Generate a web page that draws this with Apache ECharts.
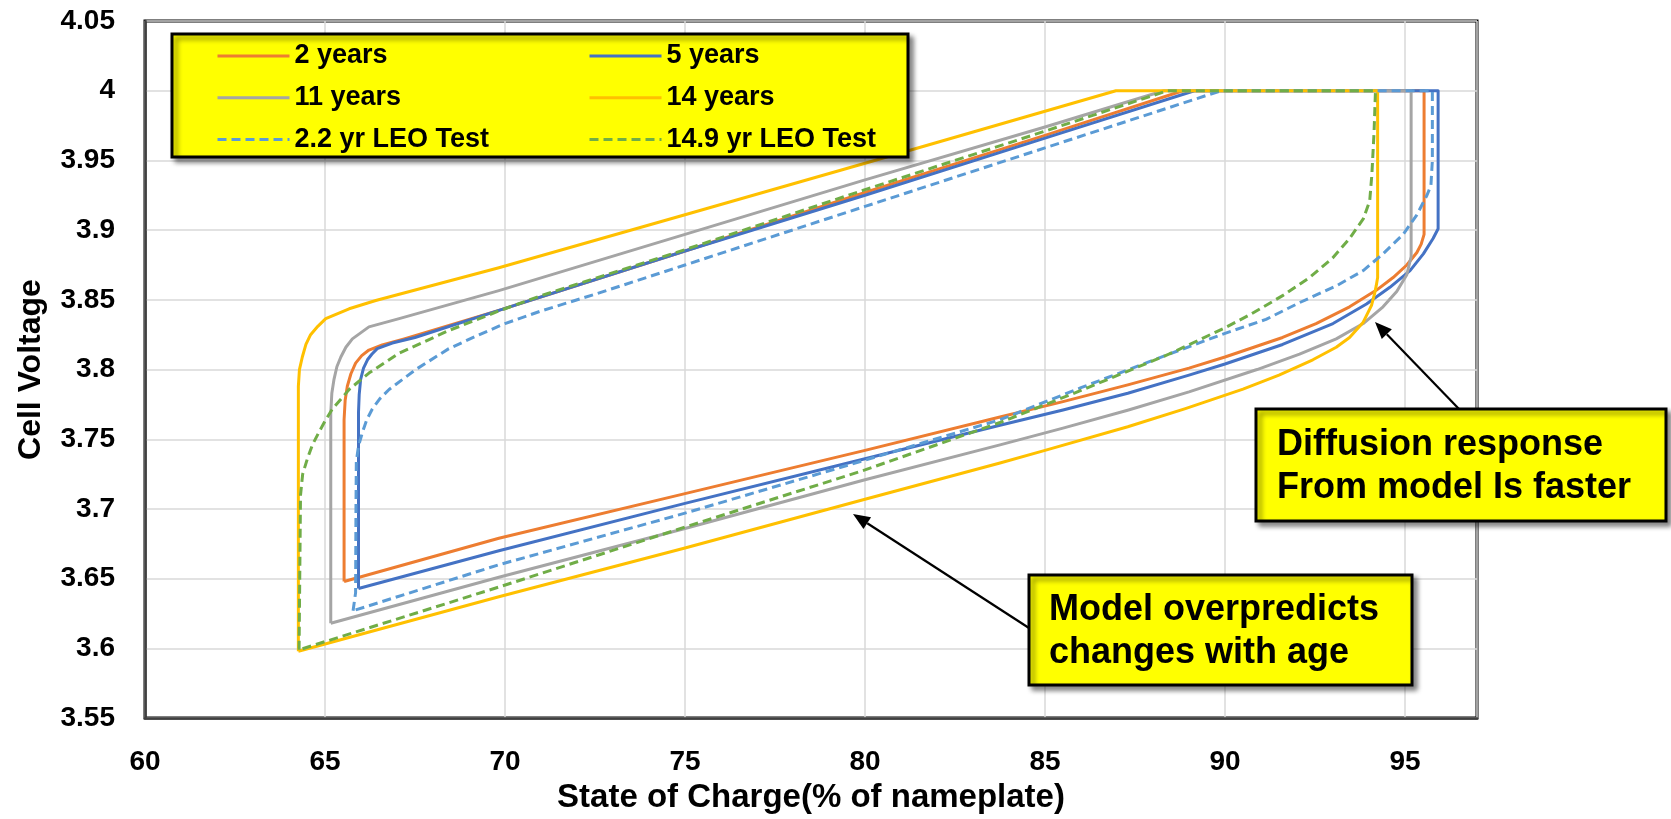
<!DOCTYPE html>
<html>
<head>
<meta charset="utf-8">
<script src="https://cdn.jsdelivr.net/npm/echarts@6/dist/echarts.min.js"></script>
<style>
html,body{margin:0;padding:0;background:#fff;}
#chart{width:1671px;height:819px;}
</style>
</head>
<body>
<div id="chart"></div>
<script>
// ---- Data (State of Charge %, Cell Voltage V) ----
const seriesNames = ['2 years','5 years','11 years','14 years','2.2 yr LEO Test','14.9 yr LEO Test'];

const soc2yr = [65.53,65.53,65.56,65.62,65.72,65.85,66.02,66.22,66.59,67.2,69.83,75,80,85,88.83,95.53,95.53,95.45,95.33,95.05,94.67,94.21,93.46,92.53,91.6,90,89,87.3,85.5,83.75,80,75,69.83,65.53];
const v2yr   = [3.648,3.764,3.778,3.788,3.797,3.8046,3.810,3.814,3.8176,3.822,3.8424,3.885,3.927,3.968,4.0,4.0,3.897,3.890,3.884,3.875,3.866,3.857,3.845,3.833,3.823,3.809,3.801,3.789,3.777,3.766,3.742,3.711,3.679,3.648];

const soc5yr = [65.93,65.93,65.95,65.99,66.07,66.18,66.3,66.45,66.87,67.5,69.83,75,80,85,89.15,95.92,95.92,95.78,95.51,95.14,94.58,93.93,93.0,91.6,90,89,87.3,85.5,83.75,80,75,69.83,65.93];
const v5yr   = [3.643,3.769,3.782,3.793,3.801,3.807,3.811,3.815,3.819,3.823,3.8424,3.885,3.925,3.966,4.0,4.0,3.901,3.894,3.883,3.871,3.859,3.847,3.833,3.818,3.804,3.796,3.783,3.771,3.760,3.736,3.704,3.670,3.643];

const soc11yr = [65.16,65.16,65.19,65.25,65.33,65.44,65.58,65.76,66.22,67.06,69.83,75,80,85,88.3,95.17,95.17,95.05,94.77,94.39,93.84,93.09,92.07,90.89,89,87.32,85.5,83.75,80,75,69.83,65.16];
const v11yr   = [3.618,3.769,3.783,3.793,3.802,3.809,3.816,3.822,3.8306,3.8365,3.8566,3.897,3.936,3.974,4.0,4.0,3.881,3.868,3.856,3.845,3.833,3.822,3.811,3.800,3.784,3.771,3.758,3.746,3.721,3.686,3.651,3.618];

const soc14yr = [64.26,64.26,64.29,64.37,64.47,64.60,64.8,65.02,65.67,66.41,69.83,75,80,86.97,94.24,94.24,94.2,94.16,94.07,93.84,93.46,93.09,92.44,91.5,90.5,88.9,87.3,85,83.75,80,75,69.83,64.26];
const v14yr   = [3.598,3.788,3.800,3.809,3.818,3.825,3.831,3.8365,3.8436,3.8495,3.873,3.911,3.948,4.0,4.0,3.866,3.860,3.855,3.846,3.834,3.823,3.816,3.807,3.796,3.786,3.772,3.759,3.742,3.733,3.707,3.672,3.637,3.598];

const socLeo22 = [65.78,65.85,65.86,65.87,65.93,66.04,66.16,66.31,66.52,66.78,67.52,68.44,69.2,70,71,72.5,75,80,85,89.89,95.76,95.76,95.72,95.61,95.33,94.95,94.39,93.84,93.09,92.07,91.14,90,88.44,86,83.75,80,75,69.83,65.78];
const vLeo22   = [3.627,3.640,3.700,3.734,3.745,3.755,3.764,3.7715,3.779,3.7857,3.800,3.815,3.824,3.833,3.842,3.854,3.875,3.917,3.959,4.0,4.0,3.95,3.932,3.925,3.911,3.897,3.883,3.871,3.860,3.848,3.836,3.826,3.811,3.787,3.764,3.735,3.697,3.660,3.627];

const socLeo149 = [64.28,64.32,64.38,64.51,64.65,64.83,65.0,65.20,65.67,66.22,67.06,68.44,69.83,71,75,80,85,88.4,94.18,94.14,94.08,94.02,93.84,93.46,92.99,92.35,91.6,90.67,90,88.44,86,83.75,80,75,69.83,64.28];
const vLeo149   = [3.599,3.710,3.725,3.736,3.746,3.755,3.763,3.7715,3.7857,3.7975,3.8117,3.828,3.842,3.853,3.886,3.929,3.971,4.0,4.0,3.97,3.94,3.921,3.908,3.894,3.880,3.866,3.853,3.839,3.830,3.811,3.785,3.762,3.728,3.687,3.644,3.599];

const xTicks = [60,65,70,75,80,85,90,95];
const yTicks = [3.55,3.6,3.65,3.7,3.75,3.8,3.85,3.9,3.95,4,4.05];

// ---- Build ----
const FONT = '"Liberation Sans", Arial, sans-serif';
function zip(xs, ys){ return xs.map((x,i)=>[x, ys[i]]); }
const seriesData = [zip(soc2yr,v2yr), zip(soc5yr,v5yr), zip(soc11yr,v11yr), zip(soc14yr,v14yr), zip(socLeo22,vLeo22), zip(socLeo149,vLeo149)];
const colors = ['#ED7D31','#4472C4','#A5A5A5','#FFC000','#5B9BD5','#70AD47'];
const dashed = [false,false,false,false,true,true];

const series = seriesNames.map((n,i)=>({
  name: n, type: 'line', data: seriesData[i], symbol: 'none', showSymbol: false,
  smooth: false, z: 2 + i,
  lineStyle: { color: colors[i], width: 3, type: dashed[i] ? [9,5] : 'solid', join: 'round' },
  itemStyle: { color: colors[i] },
  emphasis: { disabled: true }
}));

function arrowEls(x1,y1,x2,y2){
  const a = Math.atan2(y2-y1, x2-x1), L = 17, W = 7;
  const bx = x2 - L*Math.cos(a), by = y2 - L*Math.sin(a);
  return [
    { type:'line', z: 20, shape:{x1:x1,y1:y1,x2:bx,y2:by}, style:{stroke:'#000', lineWidth:2.2} },
    { type:'polygon', z: 20, shape:{points:[[x2,y2],[bx+W*Math.sin(a), by-W*Math.cos(a)],[bx-W*Math.sin(a), by+W*Math.cos(a)]]}, style:{fill:'#000'} }
  ];
}
const boxStyle = { fill:'#FFFF00', stroke:'#000', lineWidth:3, shadowBlur:5, shadowOffsetX:4, shadowOffsetY:4, shadowColor:'rgba(0,0,0,0.45)' };
const annFont = 'bold 36px ' + FONT;

const legendCommon = {
  orient: 'vertical', padding: 0, itemWidth: 72, itemHeight: 14, itemGap: 13.7,
  selectedMode: false, z: 12,
  itemStyle: { opacity: 0 },
  lineStyle: { width: 3 },
  textStyle: { fontFamily: FONT, fontWeight: 'bold', fontSize: 27, color: '#000', lineHeight: 28 }
};

const option = {
  animation: false,
  backgroundColor: '#fff',
  grid: { left: 145, right: 194, top: 21, bottom: 93, show: true, borderColor: '#000', borderWidth: 3, backgroundColor: 'transparent' },
  legend: [
    Object.assign({}, legendCommon, { left: 216, top: 42, data: [seriesNames[0], seriesNames[2], seriesNames[4]] }),
    Object.assign({}, legendCommon, { left: 588, top: 42, data: [seriesNames[1], seriesNames[3], seriesNames[5]] })
  ],
  xAxis: {
    type: 'value', min: xTicks[0], max: 97, interval: 5,
    name: 'State of Charge(% of nameplate)', nameLocation: 'middle', nameGap: 62,
    nameTextStyle: { fontFamily: FONT, fontWeight: 'bold', fontSize: 33, color: '#000' },
    axisLine: { show: true, onZero: false, lineStyle: { color: '#404040', width: 2.5 } },
    axisTick: { show: false },
    axisLabel: { fontFamily: FONT, fontWeight: 'bold', fontSize: 28, color: '#000', margin: 30, showMaxLabel: false,
      formatter: v => (xTicks.indexOf(v) >= 0 ? String(v) : '') },
    splitLine: { show: true, lineStyle: { color: '#D9D9D9', width: 1.5 } }
  },
  yAxis: {
    type: 'value', min: yTicks[0], max: yTicks[yTicks.length-1], interval: 0.05,
    name: 'Cell Voltage', nameLocation: 'middle', nameGap: 98, nameRotate: 90,
    nameTextStyle: { fontFamily: FONT, fontWeight: 'bold', fontSize: 32, color: '#000' },
    axisLine: { show: true, onZero: false, lineStyle: { color: '#404040', width: 2.5 } },
    axisTick: { show: false },
    axisLabel: { fontFamily: FONT, fontWeight: 'bold', fontSize: 28, color: '#000', margin: 30,
      formatter: v => String(parseFloat(Number(v).toFixed(2))) },
    splitLine: { show: true, lineStyle: { color: '#D9D9D9', width: 1.5 } }
  },
  series: series,
  graphic: [
    { type:'rect', z: 8, shape:{x:172, y:34, width:736, height:123}, style: boxStyle },
    { type:'rect', z: 15, shape:{x:1256, y:409, width:410, height:112}, style: boxStyle },
    { type:'text', z: 16, x:1277, y:445, style:{ text:'Diffusion response', font: annFont, fill:'#000', verticalAlign:'middle' } },
    { type:'text', z: 16, x:1277, y:488, style:{ text:'From model Is faster', font: annFont, fill:'#000', verticalAlign:'middle' } },
    { type:'rect', z: 15, shape:{x:1029, y:575, width:383, height:110}, style: boxStyle },
    { type:'text', z: 16, x:1049, y:610, style:{ text:'Model overpredicts', font: annFont, fill:'#000', verticalAlign:'middle' } },
    { type:'text', z: 16, x:1049, y:653, style:{ text:'changes with age', font: annFont, fill:'#000', verticalAlign:'middle' } }
  ].concat(arrowEls(1459,409,1375,322)).concat(arrowEls(1029,628,853,514))
};

const chart = echarts.init(document.getElementById('chart'), null, { renderer: 'canvas' });
chart.setOption(option);
</script>
</body>
</html>
